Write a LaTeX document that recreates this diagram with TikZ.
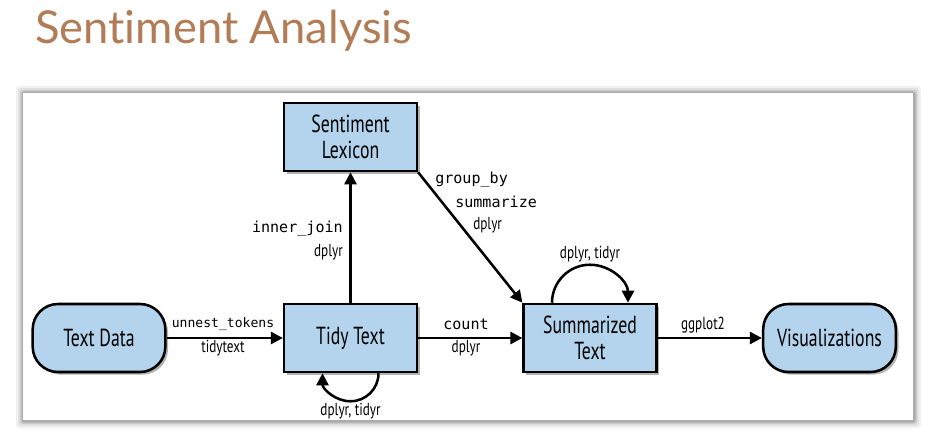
\documentclass[tikz,border=0pt]{standalone}
\usepackage{fontspec}
\setmainfont{PT Sans}
\newfontfamily\boxfont[FakeStretch=0.72]{PT Sans}
\newfontfamily\labfont[FakeStretch=0.76]{PT Sans}
\newfontfamily\titlefont[Ligatures=NoCommon]{Lato}
\newfontfamily\codefont{DejaVu Sans Mono}
\usetikzlibrary{arrows.meta,shadows,calc}
\definecolor{boxblue}{RGB}{179,212,236}
\definecolor{titlebrown}{RGB}{178,124,86}
\begin{document}
\begin{tikzpicture}[x=0.75pt,y=-0.75pt,
  box/.style={draw=black,line width=1.9pt,fill=boxblue,minimum width=99.5pt,minimum height=51pt,
    align=center,inner sep=2pt,font=\boxfont\fontsize{18.5}{20}\selectfont,
    drop shadow={shadow xshift=2pt,shadow yshift=-2pt,opacity=0.3,fill=black}},
  rbox/.style={box,rounded corners=19pt},
  arr/.style={line width=1.9pt,-{Triangle[length=9pt,width=9pt]}},
  code/.style={font=\codefont\fontsize{11.3}{13}\selectfont,inner sep=0pt},
  lab/.style={font=\labfont\fontsize{13}{15}\selectfont,inner sep=0pt}]
\useasboundingbox (0,0) rectangle (939,435);
% panel with soft shadow
\foreach \d/\o in {7/0.05,5/0.07,3/0.1,1.5/0.15}{
  \fill[black,opacity=\o,rounded corners=2pt] (23-\d,93-\d) rectangle (913+\d+1,420+\d+1);
}
\fill[white] (23,93) rectangle (913,420);
% title
\node[anchor=base west,inner sep=0pt,font=\titlefont\fontsize{34}{40}\selectfont,text=titlebrown] (title) at (35,44) {Sent\kern0pt iment Analysis};
% nodes
\node[box] (lex) at (350.5,137) {Sentiment\\Lexicon};
\node[rbox] (data) at (99,338) {Text Data};
\node[box] (tidy) at (350.5,338) {Tidy Text};
\node[box] (summ) at (590,338) {Summarized\\Text};
\node[rbox] (vis) at (829.5,338) {Visualizations};
% connectors
\draw[arr] (data) -- (tidy);
\draw[arr] (tidy) -- (lex);
\draw[arr] (lex.south east) -- (summ.north west);
\draw[arr] (tidy) -- (summ);
\draw[arr] (summ) -- (vis);
\draw[arr] ([xshift=21pt]tidy.south) arc[start angle=0,end angle=-180,radius=21pt];
\draw[arr] ([xshift=-28.5pt]summ.north) arc[start angle=180,end angle=0,radius=28.5pt];
% labels
\node[code,anchor=base,font=\codefont\fontsize{9.8}{12}\selectfont] (l1) at (223,327) {unnest\_tokens};
\node[lab,anchor=base] (l2) at (223,352) {tidytext};
\node[code,anchor=base east] (l3) at (343,232) {inner\_join};
\node[lab,anchor=base east] (l4) at (343,256) {dplyr};
\node[code,anchor=base west] (l5) at (435,183) {group\_by};
\node[code,anchor=base west] (l6) at (455,207) {summarize};
\node[lab,anchor=base west] (l7) at (473,229) {dplyr};
\node[code,anchor=base] (l8) at (466,329) {count};
\node[lab,anchor=base] (l9) at (466,352) {dplyr};
\node[lab,anchor=base] (l10) at (703,329) {ggplot2};
\node[lab,anchor=base] (l11) at (350.5,415) {dplyr, tidyr};
\node[lab,anchor=base] (l12) at (590,258) {dplyr, tidyr};
\end{tikzpicture}
\end{document}
